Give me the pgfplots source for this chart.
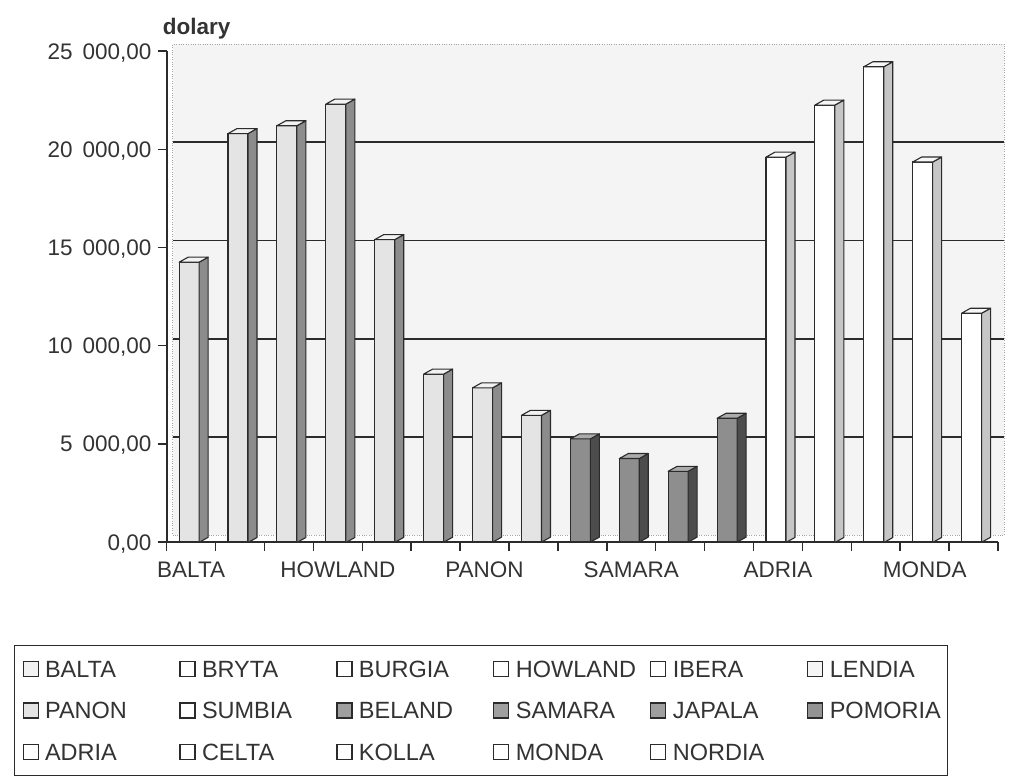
\documentclass[border=0pt]{standalone}
\usepackage{pgfplots}
\pgfplotsset{compat=1.18}
\usepackage{pgfplotstable}
\usepackage{fontspec}
\setmainfont{Liberation Sans}
\definecolor{txt}{HTML}{333333}
\definecolor{edge}{HTML}{2B2B2B}
\definecolor{aFront}{HTML}{E4E4E4}
\definecolor{aSide}{HTML}{8C8C8C}
\definecolor{aTop}{HTML}{F2F2F2}
\definecolor{bFront}{HTML}{8E8E8E}
\definecolor{bSide}{HTML}{4C4C4C}
\definecolor{bTop}{HTML}{ABABAB}
\definecolor{cFront}{HTML}{FFFFFF}
\definecolor{cSide}{HTML}{C6C6C6}
\definecolor{cTop}{HTML}{F7F7F7}
\definecolor{wall}{HTML}{F4F4F4}

\pgfplotstableread{
x v
0.5 14250
1.5 20800
2.5 21200
3.5 22300
4.5 15400
5.5 8550
6.5 7850
7.5 6450
}\groupA
\pgfplotstableread{
x v
8.5 5250
9.5 4250
10.5 3600
11.5 6300
}\groupB
\pgfplotstableread{
x v
12.5 19600
13.5 22250
14.5 24200
15.5 19350
16.5 11650
}\groupC

\newdimen\hhd
\newcommand{\declarebox}[3]{%
 \pgfdeclareplotmark{#1}{%
  \pgfmathsetlength\hhd{\pgfplotspointmetatransformed*0.4915bp}%
  \pgfsetlinewidth{1.1bp}\pgfsetstrokecolor{edge}\pgfsetroundjoin
  \pgfsetfillcolor{#3}%
  \pgfpathmoveto{\pgfpoint{8bp}{0bp}}%
  \pgfpathlineto{\pgfpoint{17bp}{5bp}}%
  \pgfpathlineto{\pgfpoint{17bp}{5bp-\hhd}}%
  \pgfpathlineto{\pgfpoint{8bp}{-\hhd}}%
  \pgfpathclose
  \pgfusepath{fill,stroke}%
  \pgfsetfillcolor{#2}%
  \pgfpathmoveto{\pgfpoint{-12bp}{0bp}}%
  \pgfpathlineto{\pgfpoint{-3bp}{5bp}}%
  \pgfpathlineto{\pgfpoint{17bp}{5bp}}%
  \pgfpathlineto{\pgfpoint{8bp}{0bp}}%
  \pgfpathclose
  \pgfusepath{fill,stroke}%
 }}
\declarebox{boxA}{aTop}{aSide}
\declarebox{boxB}{bTop}{bSide}
\declarebox{boxC}{cTop}{cSide}

\begin{document}
\begin{tikzpicture}
\begin{axis}[
  x=48.9bp, y=0.01966bp,
  xmin=0, xmax=17, ymin=0, ymax=25000,
  clip=false,
  axis lines*=left,
  axis line style={line width=1.8bp, edge},
  axis background/.style={fill=wall, draw=gray!70, dotted, xshift=6bp, yshift=7bp},
  xtick={0.5,3.5,6.5,9.5,12.5,15.5},
  xticklabels={BALTA,HOWLAND,PANON,SAMARA,ADRIA,MONDA},
  minor xtick={0,1,...,17},
  ytick={0,5000,...,25000},
  extra y ticks={5000,10000,15000,20000},
  extra y tick labels={},
  extra y tick style={ymajorgrids=true, major tick length=0pt},
  grid style={line width=1.8bp, edge, xshift=6bp, yshift=7bp},
  tick align=outside,
  major tick length=9bp, minor tick length=9bp,
  major x tick style={draw=none},
  tick style={line width=1.5bp, edge},
  scaled y ticks=false,
  /pgf/number format/assume math mode=true,
  y tick label style={/pgf/number format/fixed, /pgf/number format/fixed zerofill, /pgf/number format/precision=2, /pgf/number format/use comma, /pgf/number format/1000 sep={\hspace{0.45em}}},
  every tick label/.append style={font=\fontsize{22.5bp}{27bp}\selectfont, text=txt, inner sep=0pt, text height=16bp, text depth=0pt},
  yticklabel style={xshift=-6bp},
  xticklabel style={yshift=-10.3bp},
  legend columns=6,
  legend cell align=left,
  legend image code/.code={\draw[#1] (0bp,-7.5bp) rectangle (15bp,7.5bp); \path[draw=none,fill=none] (0bp,0bp) -- (22bp,0bp);},
  legend style={
    at={(axis description cs:-0.191,-0.2238)}, anchor=north west,
    draw=edge, line width=1.2bp, fill=white,
    inner xsep=8bp, inner ysep=15.5bp,
    column sep=0pt, row sep=24.5bp,
    font=\fontsize{23.5bp}{28bp}\selectfont, text=txt,
    nodes={inner sep=0pt, text width=134.4bp, text height=16.7bp, text depth=0pt},
    /tikz/column 12/.style={nodes={text width=110bp}},
  },
  boxes/.style={only marks, scatter, forget plot, point meta=explicit, point meta min=0, point meta max=25000},
]
\addplot[ybar, bar width=20bp, bar shift=-2bp, fill=aFront, draw=edge, line width=1.1bp, forget plot] table[x=x,y=v]{\groupA};
\addplot[boxes, mark=boxA] table[x=x,y=v,meta=v]{\groupA};
\addplot[ybar, bar width=20bp, bar shift=-2bp, fill=bFront, draw=edge, line width=1.1bp, forget plot] table[x=x,y=v]{\groupB};
\addplot[boxes, mark=boxB] table[x=x,y=v,meta=v]{\groupB};
\addplot[ybar, bar width=20bp, bar shift=-2bp, fill=cFront, draw=edge, line width=1.1bp, forget plot] table[x=x,y=v]{\groupC};
\addplot[boxes, mark=boxC] table[x=x,y=v,meta=v]{\groupC};

\addlegendimage{fill=gray!10, draw=edge, line width=1.1bp}\addlegendentry{BALTA}
\addlegendimage{fill=white, draw=edge, line width=1.1bp}\addlegendentry{BRYTA}
\addlegendimage{fill=white, draw=edge, line width=1.1bp}\addlegendentry{BURGIA}
\addlegendimage{fill=white, draw=edge, line width=1.1bp}\addlegendentry{HOWLAND}
\addlegendimage{fill=white, draw=edge, line width=1.1bp}\addlegendentry{IBERA}
\addlegendimage{fill=gray!8, draw=edge, line width=1.1bp}\addlegendentry{LENDIA}
\addlegendimage{fill=gray!22, draw=edge, line width=1.1bp}\addlegendentry{PANON}
\addlegendimage{fill=white, draw=edge, line width=1.1bp}\addlegendentry{SUMBIA}
\addlegendimage{fill=gray!75, draw=edge, line width=1.1bp}\addlegendentry{BELAND}
\addlegendimage{fill=gray!75, draw=edge, line width=1.1bp}\addlegendentry{SAMARA}
\addlegendimage{fill=gray!75, draw=edge, line width=1.1bp}\addlegendentry{JAPALA}
\addlegendimage{fill=gray!85, draw=edge, line width=1.1bp}\addlegendentry{POMORIA}
\addlegendimage{fill=white, draw=edge, line width=1.1bp}\addlegendentry{ADRIA}
\addlegendimage{fill=white, draw=edge, line width=1.1bp}\addlegendentry{CELTA}
\addlegendimage{fill=white, draw=edge, line width=1.1bp}\addlegendentry{KOLLA}
\addlegendimage{fill=white, draw=edge, line width=1.1bp}\addlegendentry{MONDA}
\addlegendimage{fill=white, draw=edge, line width=1.1bp}\addlegendentry{NORDIA}

\node[anchor=base west, inner sep=0pt, xshift=-4bp, yshift=16.4bp, font=\fontsize{22.5bp}{27bp}\selectfont\bfseries, text=txt] at (rel axis cs:0,1) {dolary};
\coordinate (O) at (rel axis cs:0,0);
\end{axis}
\pgfresetboundingbox
\path[use as bounding box] (O) ++(-166.7bp,-239bp) rectangle ++(1013bp,781bp);
\end{tikzpicture}
\end{document}
